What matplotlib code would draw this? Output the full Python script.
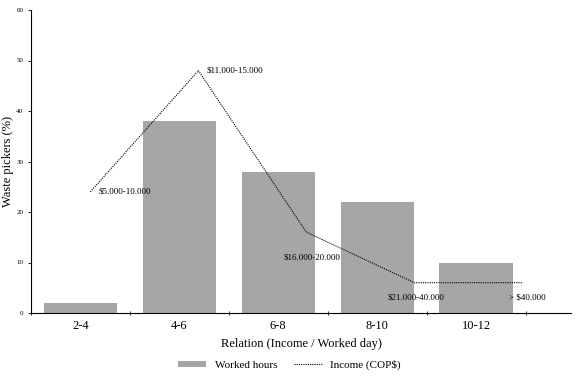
import numpy as np
import matplotlib.pyplot as plt

plt.rcParams['font.family'] = ['Liberation Serif', 'DejaVu Serif']

# datos
categorias = ['2-4', '4-6', '6-8', '8-10', '10-12']
horas = [2, 38, 28, 22, 10]
ingreso = [24, 48, 16, 6, 6]
etiquetas = ['$5.000-10.000', '$11.000-15.000', '$16.000-20.000', '$21.000-40.000', '> $40.000']
desp = [(0.08, 0), (0.08, 0), (-0.21, -5), (-0.25, -3), (-0.12, -3)]

fig = plt.figure(figsize=(5.79, 3.79), dpi=100)
ax = fig.add_axes([31/579, 66/379, 540/579, 303/379])

x = np.arange(len(categorias)) + 0.5
ax.bar(x, horas, width=0.74, color='#a6a6a6', label='Worked hours', zorder=2)
ax.set_xlim(0, 5.46)
ax.set_ylim(0, 60)
ax.set_yticks(np.arange(0, 61, 10))
ax.tick_params(axis='y', labelsize=5, length=2, width=0.6)
ax.set_xticks(np.arange(0, 6))
ax.set_xticklabels([])
ax.set_xticks(x, minor=True)
ax.set_xticklabels(categorias, minor=True, fontsize=9)
ax.tick_params(axis='x', which='major', length=3, width=0.6, direction='inout')
ax.tick_params(axis='x', which='minor', length=0, pad=5)
for s in ['top', 'right']:
    ax.spines[s].set_visible(False)
ax.spines['left'].set_linewidth(0.8)
ax.spines['bottom'].set_linewidth(0.8)
ax.set_ylabel('Waste pickers (%)', fontsize=9)
ax.yaxis.set_label_coords(-0.031, 0.5)
ax.set_xlabel('Relation (Income / Worked day)', fontsize=9, labelpad=4)

# linea de ingreso en eje secundario
ax2 = ax.twiny()
xi = np.arange(len(ingreso)) + 0.5
ln, = ax2.plot(xi + 0.05, ingreso, color='black', linestyle=(0, (1, 1)), linewidth=0.8,
               label='Income (COP$)', zorder=3)
ax2.set_xlim(0, 5)
ax2.set_axis_off()
for i in range(len(ingreso)):
    dx, dy = desp[i]
    ax2.text(xi[i] + 0.05 + dx, ingreso[i] + dy, etiquetas[i], fontsize=6.5,
             ha='left', va='center')

h1, l1 = ax.get_legend_handles_labels()
fig.legend(h1 + [ln], l1 + ['Income (COP$)'], loc='center', bbox_to_anchor=(0.5, 14/379),
           ncol=2, frameon=False, fontsize=8, handlelength=2.5, handleheight=0.5,
           columnspacing=1.5)

fig.savefig('out.png', dpi=100)
